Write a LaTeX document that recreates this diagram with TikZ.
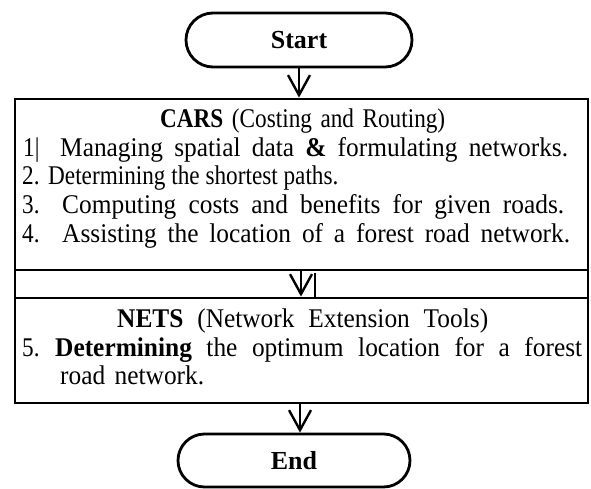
\documentclass[tikz,border=0pt]{standalone}
\usepackage{fontspec}
\setmainfont[FakeStretch=0.94]{Liberation Serif}
\newfontfamily\narrowfont[FakeStretch=0.86]{Liberation Serif}
\newfontfamily\termfont{Liberation Serif}
\usetikzlibrary{arrows.meta,shapes.misc}
\newcommand{\spreadw}[2]{\makebox[#1][s]{#2}}
\tikzset{
  term/.style={rounded rectangle, draw, line width=2.8pt, font=\termfont\fontsize{26}{28}\selectfont\bfseries, inner sep=0pt},
  panel/.style={rectangle, draw, line width=2.8pt, inner sep=0pt},
  flow/.style={line width=2.2pt, -{Straight Barb[length=20pt,width=22pt,line width=2.4pt]}},
  txt/.style={anchor=base west, inner sep=0pt, font=\fontsize{27}{28}\selectfont},
  ntxt/.style={anchor=base west, inner sep=0pt, font=\narrowfont\fontsize{27}{28}\selectfont},
}
\begin{document}
\begin{tikzpicture}[x=1pt,y=-1pt]
\useasboundingbox (0,0) rectangle (591,489);
\node[term, minimum width=226pt, minimum height=54pt] (start) at (299,40) {Start};
\node[panel, minimum width=573pt, minimum height=171pt] (cars) at (301.5,184.5) {};
\node[panel, minimum width=573pt, minimum height=28pt] (strip) at (301.5,284) {};
\node[panel, minimum width=573pt, minimum height=105pt] (nets) at (301.5,350.5) {};
\node[term, minimum width=232pt, minimum height=53pt] (end) at (294,460.5) {End};

\node[ntxt] (t1) at (160,128) {\spreadw{285pt}{\textbf{CARS} (Costing and Routing)}};
\node[ntxt] (n1) at (23,157) {1|};
\node[txt] (l1) at (60,157) {\spreadw{508pt}{Managing spatial data \textbf{\&} formulating networks.}};
\node[ntxt] (n2) at (22,185) {2.};
\node[ntxt] (l2) at (48,185) {Determining the shortest paths.};
\node[ntxt] (n3) at (22,213) {3.};
\node[txt] (l3) at (62,213) {\spreadw{502pt}{Computing costs and benefits for given roads.}};
\node[ntxt] (n4) at (22,242) {4.};
\node[txt] (l4) at (62,242) {\spreadw{508pt}{Assisting the location of a forest road network.}};

\node[txt] (t2) at (117,327) {\spreadw{371pt}{\textbf{NETS} (Network Extension Tools)}};
\node[ntxt] (n5) at (22,356) {5.};
\node[txt] (l5) at (55,356) {\spreadw{527pt}{\textbf{Determining} the optimum location for a forest}};
\node[txt] (l6) at (60,384) {\spreadw{144pt}{road network.}};

\draw[flow] (start.south -| 299,0) -- (cars.north -| 299,0);
\draw[flow] (cars.south -| 301,0) -- (nets.north -| 301,0);
\coordinate (vtop) at (315,273);
\coordinate (vbot) at (315,298);
\draw[line width=1.4pt] (vtop) -- (vbot);
\draw[flow] (nets.south -| 300,0) -- (end.north -| 300,0);
\end{tikzpicture}
\end{document}
